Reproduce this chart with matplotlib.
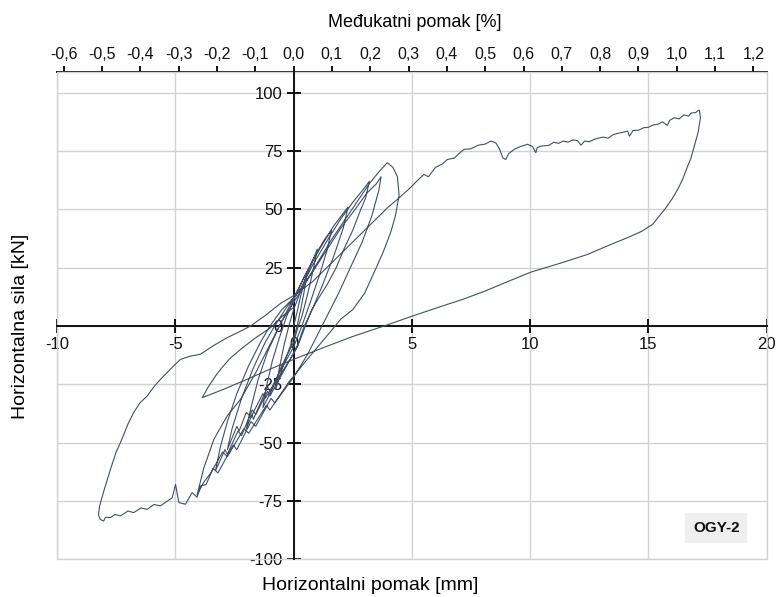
import matplotlib
matplotlib.use('Agg')
import matplotlib.pyplot as plt
from matplotlib.patches import Rectangle

plt.rcParams['font.family'] = ['Liberation Sans', 'DejaVu Sans']
plt.rcParams['axes.unicode_minus'] = False

# pomak [mm] i sila [kN], ocitano sa slike (redom kako je ispitivanje islo)
disp_mm = [
    # mali ciklusi
    0.0, 0.15, 0.3, 0.5, 0.55, 0.45, 0.3, 0.15,
    0.0, -0.3, -0.6, -0.75, -0.6, -0.4, -0.2, 0.0,
    0.3, 0.6, 0.85, 1.0, 0.85, 0.6, 0.35, 0.2,
    0.0, -0.5, -0.9, -1.3, -1.15, -0.9, -0.6, -0.3, 0.0,
    0.4, 0.9, 1.3, 1.6, 1.4, 1.1, 0.7, 0.35,
    0.0, -0.6, -1.0, -1.1, -1.4, -1.7, -1.75, -2.0, -1.8, -1.5, -1.1, -0.6, -0.2, 0.0,
    0.5, 1.1, 1.7, 2.0, 2.3, 2.1, 1.7, 1.2, 0.7, 0.45,
    0.1, -0.5, -1.2, -1.3, -1.8, -2.0, -2.3, -2.4, -2.8, -2.6, -2.2, -1.7, -1.2, -0.8, -0.3, 0.0,
    0.3, 0.8, 1.5, 2.0, 2.5, 2.9, 3.2, 3.05, 2.84, 2.5, 2.13, 1.8, 1.43, 1.0, 0.72, 0.5,
    0.2, -0.4, -1.0, -1.1, -1.6, -1.75, -2.2, -2.35, -2.8, -2.9, -3.3, -3.1, -2.8, -2.4,
    -1.9, -1.4, -1.0, -0.5, 0.0,
    0.4, 1.0, 1.6, 2.2, 2.8, 3.2, 3.6, 3.96, 4.2, 4.39, 4.46, 4.3, 4.1, 3.8, 3.54, 3.0, 2.5,
    2.0, 1.43, 0.6,
    -0.2, -1.0, -1.15, -1.9, -2.1, -2.8, -3.0, -3.5, -3.8, -4.08,
    -3.8, -3.37, -2.81, -2.24, -1.6, -1.0, -0.5, 0.0,
    0.6, 1.3, 2.0, 2.6, 3.1, 3.5, 3.7, 3.6, 3.3, 2.9, 2.4, 1.9, 1.3, 0.6,
    # veliki negativni ciklus
    0.0, -0.8, -0.95, -1.6, -1.8, -2.4, -2.55, -3.2, -3.4, -3.7, -3.94, -4.08, -4.29,
    -4.57, -4.85, -4.99, -5.13,
    -5.4, -5.63, -5.9, -6.19, -6.45, -6.76, -7.0, -7.32, -7.55, -7.74, -7.95, -8.03,
    -8.17, -8.25, -8.2, -8.0, -7.74, -7.5, -7.32, -7.0, -6.76, -6.5, -6.19, -5.9, -5.63,
    -5.3, -5.07, -4.78, -4.4, -3.94, -3.4, -2.81, -2.3, -1.82, -1.2, -0.55, 0.0,
    # veliki pozitivni ciklus
    0.8, 1.6, 2.4, 3.2, 4.0, 4.39, 4.95, 5.2, 5.51, 5.7, 6.0, 6.3, 6.5, 6.8, 7.0, 7.2,
    7.5, 7.8, 8.1, 8.34, 8.55, 8.7, 8.85, 8.97, 9.1, 9.32, 9.6, 9.89, 10.1, 10.24,
    10.3, 10.45, 10.8, 11.0, 11.2, 11.4, 11.6, 11.8, 12.0, 12.15, 12.3, 12.5, 12.7,
    12.9, 13.1, 13.3, 13.5, 13.7, 13.9, 14.12, 14.2, 14.35, 14.6, 14.8, 15.0, 15.2,
    15.4, 15.6, 15.8, 15.9, 16.1, 16.3, 16.5, 16.7, 16.8, 17.0, 17.08, 17.15,
    17.2, 17.1, 16.94, 16.8, 16.66, 16.45, 16.24, 16.0, 15.74, 15.45, 15.18, 14.7,
    14.12, 13.3, 12.43, 11.3, 10.03, 9.04, 8.1, 7.14, 6.0, 4.95, 3.82, 2.5, 1.2,
    0.0, -1.0, -2.0, -3.0, -3.86,
    # zadnje rasterecenje
    -3.6, -3.3, -3.09, -2.7, -2.24, -1.6, -0.97, -0.5, 0.0,
]
force_kN = [
    0.0, 6, 13, 20, 22, 15, 7, 0,
    -5, -13, -22, -27, -18, -8, 0, 7,
    15, 23, 29, 33, 25, 14, 4, 0,
    -7, -17, -27, -35, -26, -15, -5, 4, 11,
    20, 30, 37, 41, 32, 22, 10, 0,
    -9, -20, -28, -26, -33, -40, -38, -44, -35, -23, -11, 0, 8, 12,
    22, 33, 43, 47, 51, 42, 30, 17, 5, 0,
    -10, -20, -31, -29, -39, -37, -45, -43, -53, -44, -31, -18, -7, 0, 8, 12,
    16, 26, 38, 46, 53, 58, 62, 55, 50, 41, 33, 25, 18, 11, 6, 0,
    -8, -19, -30, -28, -38, -36, -47, -45, -55, -53, -62, -52, -41, -29,
    -17, -7, 0, 7, 12,
    17, 27, 37, 46, 55, 61, 66, 70, 68, 64, 56, 47, 40, 32, 26, 14, 7,
    3, -4, -14,
    -24, -36, -34, -46, -44, -56, -54, -63, -67, -72.5,
    -61, -48.6, -38.6, -31.4, -20, -8, 2, 10,
    20, 31, 42, 50, 57, 61, 64, 58, 47, 36, 25, 14, 2, -12,
    # veliki negativni ciklus
    -22, -33, -31, -43, -41, -53, -51, -63, -61, -68, -68.6, -73.4, -71.4,
    -76.4, -75.7, -67.9, -73.6,
    -75.5, -77.1, -76.5, -78.6, -78.0, -80.0, -79.3, -81.4, -80.8, -82.1, -82.0, -83.6,
    -82.9, -81.0, -77.1, -70.0, -61.4, -54.0, -50.0, -42.0, -37.1, -33.0, -30.0, -26.0, -22.9,
    -19.5, -17.1, -14.3, -13.0, -12.1, -8.5, -5.0, -2.5, 0.0, 4.5, 9.7, 13.0,
    19, 27, 35, 43, 51, 54.3, 59.4, 62.0, 65.0, 64.0, 68.0, 69.5, 71.4, 72.0, 74.0, 75.7,
    76.0, 77.5, 78.0, 79.3, 78.5, 76.0, 72.0, 71.4, 74.0, 75.7, 77.0, 77.9, 77.0, 74.3,
    76.5, 77.1, 77.5, 78.8, 78.3, 79.3, 78.8, 79.8, 79.5, 77.5, 79.3, 79.0, 80.0,
    80.6, 81.0, 80.5, 82.0, 82.6, 83.0, 83.6, 81.4, 83.8, 84.0, 85.0, 85.2, 86.2,
    86.5, 87.5, 86.0, 88.2, 89.3, 88.8, 90.5, 90.0, 91.3, 91.5, 92.2, 92.6,
    89.3, 83.0, 77.1, 72.0, 68.6, 63.0, 58.6, 54.5, 50.7, 47.0, 43.6, 40.5,
    37.9, 34.5, 30.7, 27.0, 23.1, 19.0, 15.0, 11.4, 7.6, 4.0, 0.0, -4.5, -9.5,
    -14.3, -18.5, -23.0, -27.3, -30.7,
    -26.0, -21.4, -18.6, -14.0, -10.0, -5.0, -0.7, 4.0, 8.0,
]

x_ticks = [-10, -5, 0, 5, 10, 15, 20]
y_ticks = [-100, -75, -50, -25, 0, 25, 50, 75, 100]
drift_ticks = [round(-0.6 + 0.1 * i, 1) for i in range(19)]
storey_mm = 16.2  # 1 % medukatnog pomaka u mm (procitano sa gornje osi)

fig = plt.figure(figsize=(7.76, 5.97), dpi=100)
ax = fig.add_axes([0.0735, 0.0632, 0.9145, 0.8162])

ax.plot(disp_mm, force_kN, color='#415068', lw=0.8, zorder=3)

ax.set_xlim(-10, 20)
ax.set_ylim(-100, 108.9)
ax.set_xticks(x_ticks)
ax.set_yticks(y_ticks)
ax.grid(True, color='#d2d2d2', lw=1.0)
ax.set_axisbelow(True)

# osi kroz ishodiste
for s in ['left', 'bottom']:
    ax.spines[s].set_position(('data', 0))
    ax.spines[s].set_linewidth(1.4)
    ax.spines[s].set_color('#111111')
ax.spines['right'].set_visible(False)
ax.spines['top'].set_visible(False)
ax.add_patch(Rectangle((0, 0), 1, 1, transform=ax.transAxes, fill=False,
                       edgecolor='#d2d2d2', lw=1.0, zorder=1, clip_on=False))
ax.tick_params(direction='inout', length=10, width=1.4, labelsize=12,
               colors='#111111', pad=3)

# gornja os - medukatni pomak
top = ax.secondary_xaxis('top', functions=(lambda v: v / storey_mm, lambda p: p * storey_mm))
top.set_xticks(drift_ticks)
top.set_xticklabels([f'{t:.1f}'.replace('.', ',') for t in drift_ticks])
top.tick_params(direction='out', length=4, width=1.4, labelsize=11.5, colors='#111111', pad=3)
top.spines['top'].set_linewidth(1.4)
top.spines['top'].set_color('#111111')

fig.text(0.535, 0.963, 'Međukatni pomak [%]', ha='center', va='center', fontsize=13)
fig.text(0.477, 0.02, 'Horizontalni pomak [mm]', ha='center', va='center', fontsize=14)
fig.text(0.026, 0.453, 'Horizontalna sila [kN]', ha='center', va='center',
         rotation=90, fontsize=14)

fig.text(0.923, 0.1156, 'OGY-2', ha='center', va='center', fontsize=11,
         fontweight='bold', color='#111111',
         bbox=dict(boxstyle='square,pad=0.5', facecolor='#efefef', edgecolor='none'))

fig.savefig('out.png', dpi=100)
